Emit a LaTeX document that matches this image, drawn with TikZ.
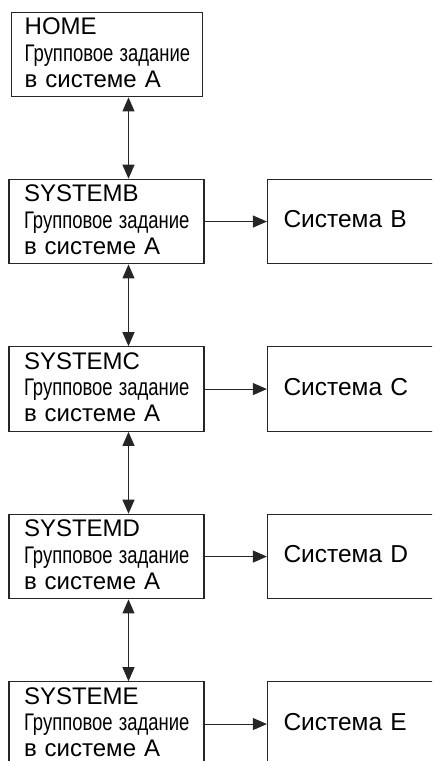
\documentclass[tikz,border=0pt]{standalone}
\usepackage{graphicx}
\usepackage{fontspec}
\setmainfont{Liberation Sans}
\usetikzlibrary{positioning, arrows.meta}
\newcommand{\squeezed}[1]{\scalebox{0.77}[1]{#1}}

\begin{document}
\begin{tikzpicture}[
  lbox/.style={rectangle, draw=black!85, line width=1.2pt, minimum height=84.5pt,
    text width=165pt, inner xsep=15pt, inner ysep=0pt, align=left,
    font=\fontsize{24}{26.3}\selectfont,
    execute at end node={\rule[-3.7pt]{0pt}{3.7pt}}},
  rbox/.style={rectangle, draw=black!85, line width=1.2pt, minimum height=84.5pt,
    text width=145pt, inner xsep=16pt, inner ysep=0pt, align=left,
    font=\fontsize{24.5}{28}\selectfont,
    execute at end node={\rule[-5pt]{0pt}{5pt}}},
  arr/.style={line width=1pt, black!85, -{Triangle[length=14pt,width=12pt]}},
  dbl/.style={line width=1pt, black!85, {Triangle[length=14pt,width=12pt]}-{Triangle[length=14pt,width=12pt]}}]
  \useasboundingbox (0,0) rectangle (432pt,-761pt);
  \clip (0,0) rectangle (432pt,-761pt);

  \node[lbox, inner xsep=13pt, anchor=north west] (home) at (11.1pt,-11.7pt)
    {HOME\\ \squeezed{Групповое задание}\\ в системе А};

  \node[lbox, below=81.3pt of home, xshift=-0.7pt] (sysb)
    {SYSTEMB\\ \squeezed{Групповое задание}\\ в системе А};
  \node[rbox, right=62.3pt of sysb] (sysbr) {Система B};

  \node[lbox, below=81.8pt of sysb] (sysc)
    {SYSTEMC\\ \squeezed{Групповое задание}\\ в системе А};
  \node[rbox, right=62.3pt of sysc] (syscr) {Система C};

  \node[lbox, below=81.8pt of sysc] (sysd)
    {SYSTEMD\\ \squeezed{Групповое задание}\\ в системе А};
  \node[rbox, right=62.3pt of sysd] (sysdr) {Система D};

  \node[lbox, below=81.8pt of sysd] (syse)
    {SYSTEME\\ \squeezed{Групповое задание}\\ в системе А};
  \node[rbox, right=62.3pt of syse] (syser) {Система E};

  % links down the chain
  \draw[dbl] ([xshift=21.3pt]home.south) -- ([xshift=21.3pt]home.south |- sysb.north);
  \draw[dbl] ([xshift=22pt]sysb.south) -- ([xshift=22pt]sysc.north);
  \draw[dbl] ([xshift=22pt]sysc.south) -- ([xshift=22pt]sysd.north);
  \draw[dbl] ([xshift=22pt]sysd.south) -- ([xshift=22pt]syse.north);

  % links to the systems
  \draw[arr] (sysb) -- (sysbr);
  \draw[arr] (sysc) -- (syscr);
  \draw[arr] (sysd) -- (sysdr);
  \draw[arr] (syse) -- (syser);
\end{tikzpicture}
\end{document}
